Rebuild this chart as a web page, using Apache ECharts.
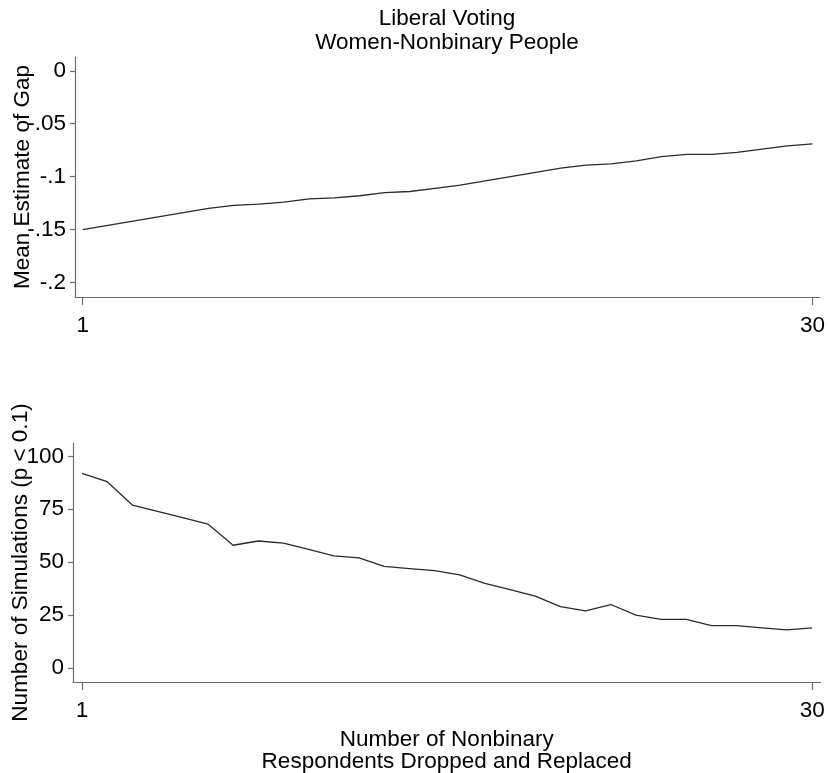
<!DOCTYPE html>
<html>
<head>
<meta charset="utf-8">
<script src="https://cdn.jsdelivr.net/npm/echarts@6/dist/echarts.min.js"></script>
<style>
html,body{margin:0;padding:0;background:#fff;}
#chart{width:829px;height:773px;}
</style>
</head>
<body>
<div id="chart"></div>
<script>
var dropped = [1,2,3,4,5,6,7,8,9,10,11,12,13,14,15,16,17,18,19,20,21,22,23,24,25,26,27,28,29,30];
var meanGap = [-0.150,-0.146,-0.142,-0.138,-0.134,-0.130,-0.127,-0.126,-0.124,-0.121,-0.120,-0.118,-0.115,-0.114,-0.111,-0.108,-0.104,-0.100,-0.096,-0.092,-0.089,-0.088,-0.085,-0.081,-0.079,-0.079,-0.077,-0.074,-0.071,-0.069];
var numSig = [92,88,77,74,71,68,58,60,59,56,53,52,48,47,46,44,40,37,34,29,27,30,25,23,23,20,20,19,18,19];
var xTickVals = [1,30];
var topTickVals = [0,-0.05,-0.1,-0.15,-0.2];
var topTickLabels = ['0','-.05','-.1','-.15','-.2'];
var botTickVals = [0,25,50,75,100];
var botTickLabels = ['0','25','50','75','100'];

var FONT = "'Liberation Sans', Arial, sans-serif";
var FS = 22.5;
var AX = '#6b6b6b';

function pairs(xs, ys){ return xs.map(function(x,i){ return [x, ys[i]]; }); }
function lookup(vals, labels){
  return function(v){
    for (var i=0;i<vals.length;i++){ if (Math.abs(vals[i]-v) < 1e-9) return labels[i]; }
    return '';
  };
}
function xAxisCfg(idx, min, max, extra){
  var o = {
    type:'value', gridIndex:idx, min:min, max:max,
    axisLine:{show:true, onZero:false, lineStyle:{color:AX, width:1.2}},
    axisTick:{show:true, inside:false, length:8, customValues:xTickVals, lineStyle:{color:AX, width:1.2}},
    axisLabel:{customValues:xTickVals, margin:17, color:'#000', fontSize:FS, fontFamily:FONT},
    splitLine:{show:false}
  };
  for (var k in extra) o[k]=extra[k];
  return o;
}
function yAxisCfg(idx, min, max, vals, labels, name){
  return {
    type:'value', gridIndex:idx, min:min, max:max,
    name:name, nameLocation:'middle', nameGap:41, nameMoveOverlap:false,
    nameTextStyle:{color:'#000', fontSize:FS, fontFamily:FONT},
    axisLine:{show:true, onZero:false, lineStyle:{color:AX, width:1.2}},
    axisTick:{show:true, inside:false, length:5, customValues:vals, lineStyle:{color:AX, width:1.2}},
    axisLabel:{customValues:vals, formatter:lookup(vals, labels), margin:9, color:'#000', fontSize:FS, fontFamily:FONT},
    splitLine:{show:false}
  };
}

var chart = echarts.init(document.getElementById('chart'), null, {renderer:'canvas'});
chart.setOption({
  animation:false,
  backgroundColor:'#fff',
  graphic:[
    {type:'text', x:447, y:7, style:{text:'Liberal Voting', textAlign:'center', fill:'#000', font:FS + 'px ' + FONT}},
    {type:'text', x:447, y:31, style:{text:'Women-Nonbinary People', textAlign:'center', fill:'#000', font:FS + 'px ' + FONT}}
  ],
  grid:[
    {left:75, top:57, width:745, height:240, containLabel:false, outerBoundsMode:'none'},
    {left:73, top:443, width:747.5, height:239, containLabel:false, outerBoundsMode:'none'}
  ],
  xAxis:[
    xAxisCfg(0, 0.694, 30.3, {}),
    xAxisCfg(1, 0.642, 30.33, {
      name:'Number of Nonbinary\nRespondents Dropped and Replaced',
      nameLocation:'middle', nameGap:47, nameMoveOverlap:false,
      nameTextStyle:{color:'#000', fontSize:FS, fontFamily:FONT, lineHeight:22}
    })
  ],
  yAxis:[
    yAxisCfg(0, -0.2136, 0.013, topTickVals, topTickLabels, 'Mean Estimate of Gap'),
    yAxisCfg(1, -6.6, 106.3, botTickVals, botTickLabels, 'Number of Simulations (p < 0.1)')
  ],
  series:[
    {type:'line', xAxisIndex:0, yAxisIndex:0, data:pairs(dropped, meanGap), showSymbol:false, symbol:'none', lineStyle:{color:'#2a2a2a', width:1.3}},
    {type:'line', xAxisIndex:1, yAxisIndex:1, data:pairs(dropped, numSig), showSymbol:false, symbol:'none', lineStyle:{color:'#2a2a2a', width:1.3}}
  ]
});
</script>
</body>
</html>
